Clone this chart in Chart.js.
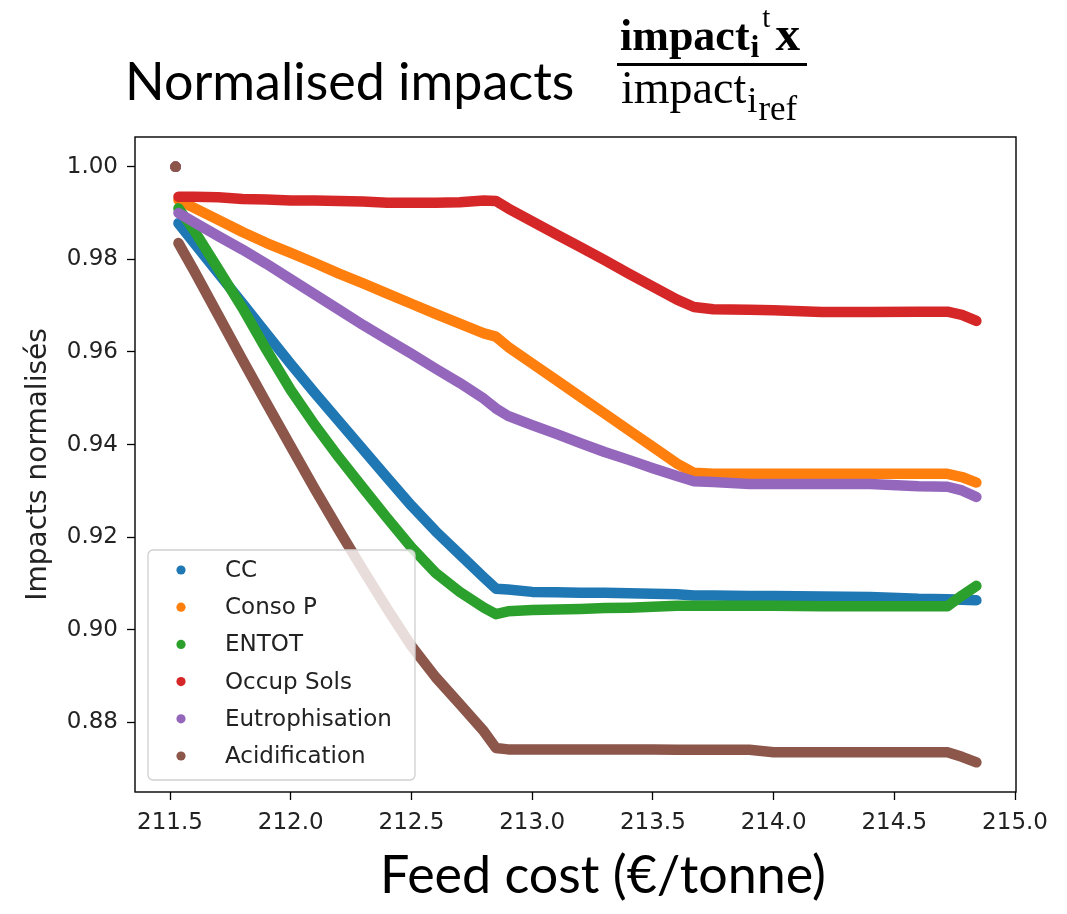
<!DOCTYPE html>
<html>
<head>
<meta charset="utf-8">
<script src="https://cdn.jsdelivr.net/npm/chart.js@4.4.0/dist/chart.umd.min.js"></script>
<style>
  html, body { margin: 0; padding: 0; background: #fff; }
  #wrap { position: relative; width: 1067px; height: 914px; overflow: hidden; }
  #chart { position: absolute; left: 0; top: 0; }
  .big { position: absolute; font-family: Lato, sans-serif; font-size: 52px; line-height: 52px; color: #000; white-space: nowrap; }
  #title { left: 125px; top: 54px; }
  #xlabel { left: 380px; top: 847px; }
  .frac { position: absolute; font-family: "Liberation Serif", serif; line-height: 46px; color: #000; white-space: nowrap; }
  #num { left: 620px; top: 11px; font-size: 44px; font-weight: bold; }
  #den { left: 621px; top: 65px; font-size: 46px; }
  #bar { position: absolute; left: 617px; top: 63px; width: 190px; height: 3px; background: #000; }
  .sub { position: relative; top: 0.22em; font-size: 0.72em; margin-left: 1px; }
  .sup { position: relative; top: -0.8em; font-size: 0.66em; font-weight: normal; margin-left: 3px; }
  .bx { font-size: 1.12em; margin-left: 5px; }
  .dsub { position: relative; top: 0.25em; font-size: 0.8em; margin-left: 1px; }
  .dsubsub { position: relative; top: 0.22em; font-size: 0.95em; margin-left: 1px; }
</style>
</head>
<body>
<div id="wrap">
  <canvas id="chart" width="1067" height="914"></canvas>
  <div id="title" class="big">Normalised impacts</div>
  <div id="num" class="frac">impact<span class="sub">i</span><span class="sup">t</span><span class="bx">x</span></div>
  <div id="bar"></div>
  <div id="den" class="frac">impact<span class="dsub">i<span class="dsubsub">ref</span></span></div>
  <div id="xlabel" class="big">Feed cost (€/tonne)</div>
</div>
<script>
// valeurs (premier point = solution de référence)
const feedCost = [211.523, 211.535, 211.6, 211.7, 211.8, 211.9, 212.0, 212.1, 212.2, 212.3, 212.4, 212.5,
    212.6, 212.7, 212.8, 212.85, 212.9, 213.0, 213.1, 213.2, 213.3, 213.4, 213.5, 213.6, 213.67,
    213.75, 213.9, 214.0, 214.2, 214.4, 214.6, 214.72, 214.78, 214.84];

const cc = [1.0, 0.9878, 0.9835, 0.9770, 0.9705, 0.9639, 0.9574, 0.9511, 0.9450, 0.9389, 0.9328, 0.9268,
    0.9213, 0.9163, 0.9113, 0.9089, 0.9087, 0.9082, 0.9081, 0.9080, 0.9080, 0.9079, 0.9078, 0.9077, 0.9074,
    0.9074, 0.9073, 0.9073, 0.9072, 0.9071, 0.9067, 0.9066, 0.9065, 0.9064];
const consoP = [1.0, 0.9928, 0.9911, 0.9885, 0.9859, 0.9835, 0.9814, 0.9792, 0.9769, 0.9748, 0.9726, 0.9704,
    0.9682, 0.9661, 0.9640, 0.9633, 0.9611, 0.9575, 0.9539, 0.9503, 0.9467, 0.9431, 0.9395, 0.9359, 0.9339,
    0.9337, 0.9337, 0.9337, 0.9337, 0.9337, 0.9337, 0.9337, 0.9330, 0.9318];
const entot = [1.0, 0.9910, 0.9862, 0.9779, 0.9695, 0.9604, 0.9518, 0.9442, 0.9372, 0.9306, 0.9241, 0.9178,
    0.9123, 0.9082, 0.9048, 0.9034, 0.9040, 0.9043, 0.9044, 0.9045, 0.9047, 0.9048, 0.9050, 0.9052, 0.9052,
    0.9052, 0.9052, 0.9052, 0.9051, 0.9051, 0.9051, 0.9051, 0.9074, 0.9095];
const occupSols = [1.0, 0.9935, 0.9935, 0.9934, 0.9930, 0.9929, 0.9927, 0.9927, 0.9926, 0.9925, 0.9922, 0.9922,
    0.9922, 0.9923, 0.9927, 0.9926, 0.9910, 0.9882, 0.9854, 0.9826, 0.9798, 0.9769, 0.9741, 0.9713, 0.9697,
    0.9692, 0.9691, 0.9690, 0.9686, 0.9686, 0.9687, 0.9687, 0.9680, 0.9667];
const eutro = [1.0, 0.9900, 0.9880, 0.9850, 0.9821, 0.9790, 0.9757, 0.9724, 0.9691, 0.9658, 0.9627, 0.9596,
    0.9564, 0.9533, 0.9499, 0.9478, 0.9462, 0.9442, 0.9423, 0.9403, 0.9384, 0.9367, 0.9349, 0.9332, 0.9321,
    0.9319, 0.9315, 0.9315, 0.9315, 0.9315, 0.9310, 0.9309, 0.9301, 0.9287];
const acid = [1.0, 0.9835, 0.9775, 0.9679, 0.9583, 0.9489, 0.9396, 0.9304, 0.9215, 0.9129, 0.9045, 0.8965,
    0.8898, 0.8840, 0.8781, 0.8745, 0.8742, 0.8742, 0.8742, 0.8742, 0.8742, 0.8742, 0.8742, 0.8741, 0.8741,
    0.8741, 0.8741, 0.8736, 0.8736, 0.8736, 0.8736, 0.8736, 0.8726, 0.8714];

const seriesNames = ["CC", "Conso P", "ENTOT", "Occup Sols", "Eutrophisation", "Acidification"];
const seriesValues = [cc, consoP, entot, occupSols, eutro, acid];
const seriesColors = ["#1f77b4", "#ff7f0e", "#2ca02c", "#d62728", "#9467bd", "#8c564b"];

const xTicks = [211.5, 212.0, 212.5, 213.0, 213.5, 214.0, 214.5, 215.0];
const yTicks = [0.88, 0.90, 0.92, 0.94, 0.96, 0.98, 1.00];

const datasets = seriesValues.map((vals, i) => ({
    label: seriesNames[i],
    data: vals.map((v, j) => ({ x: feedCost[j], y: v })),
    showLine: true,
    borderColor: seriesColors[i],
    backgroundColor: seriesColors[i],
    borderWidth: 10.5,
    borderCapStyle: "round",
    borderJoinStyle: "round",
    pointRadius: ctx => ctx.dataIndex === 0 ? 5.3 : 0,
    pointBorderWidth: 0,
    pointBackgroundColor: seriesColors[i],
    order: seriesNames.length - i,   // le dernier en haut, comme matplotlib
    segment: {
        borderColor: ctx => ctx.p0DataIndex === 0 ? "rgba(0,0,0,0)" : undefined
    }
}));

// cadre noir autour de la zone
const framePlugin = {
    id: "frame",
    afterDatasetsDraw(chart) {
        const { ctx, chartArea: a } = chart;
        ctx.save();
        ctx.strokeStyle = "#000";
        ctx.lineWidth = 1.4;
        ctx.strokeRect(a.left, a.top, a.right - a.left, a.bottom - a.top);
        ctx.restore();
    }
};

// légende dans le coin bas gauche
const legendPlugin = {
    id: "legendBox",
    afterDraw(chart) {
        const { ctx, chartArea: a } = chart;
        const x0 = a.left + 13, y1 = a.bottom - 12;
        const w = 267, h = 230, y0 = y1 - h;
        ctx.save();
        ctx.beginPath();
        ctx.roundRect(x0, y0, w, h, 5);
        ctx.fillStyle = "rgba(255,255,255,0.8)";
        ctx.fill();
        ctx.strokeStyle = "#cfcfcf";
        ctx.lineWidth = 1.3;
        ctx.stroke();
        ctx.font = "23px 'DejaVu Sans'";
        ctx.textBaseline = "middle";
        seriesNames.forEach((name, i) => {
            const y = y0 + 20 + i * 37.2;
            ctx.beginPath();
            ctx.arc(x0 + 33, y, 4.6, 0, Math.PI * 2);
            ctx.fillStyle = seriesColors[i];
            ctx.fill();
            ctx.fillStyle = "#222";
            ctx.fillText(name, x0 + 77, y + 1);
        });
        ctx.restore();
    }
};

const tickFont = size => ({ family: "DejaVu Sans", size: size });

new Chart(document.getElementById("chart"), {
    type: "scatter",
    data: { datasets: datasets },
    plugins: [framePlugin, legendPlugin],
    options: {
        responsive: false,
        animation: false,
        layout: { padding: { left: 0, right: 51, top: 137, bottom: 0 } },
        plugins: { legend: { display: false }, tooltip: { enabled: false } },
        scales: {
            x: {
                type: "linear",
                min: 211.355,
                max: 215.004,
                afterBuildTicks: s => { s.ticks = xTicks.map(v => ({ value: v })); },
                afterFit: s => { s.height = 122; },
                ticks: { callback: v => v.toFixed(1), font: tickFont(23), color: "#222", padding: 9, maxRotation: 0, autoSkip: false },
                grid: { drawOnChartArea: false, drawTicks: true, tickLength: 8, tickColor: "#000", tickWidth: 1.3 },
                border: { display: false }
            },
            y: {
                type: "linear",
                min: 0.865,
                max: 1.0064,
                afterBuildTicks: s => { s.ticks = yTicks.map(v => ({ value: v })); },
                afterFit: s => { s.width = 135; },
                ticks: { callback: v => v.toFixed(2), font: tickFont(23), color: "#222", padding: 9, autoSkip: false },
                grid: { drawOnChartArea: false, drawTicks: true, tickLength: 8, tickColor: "#000", tickWidth: 1.3 },
                border: { display: false },
                title: { display: true, text: "Impacts normalisés", font: tickFont(28), color: "#222", padding: { top: 22, bottom: 0 } }
            }
        }
    }
});
</script>
</body>
</html>
